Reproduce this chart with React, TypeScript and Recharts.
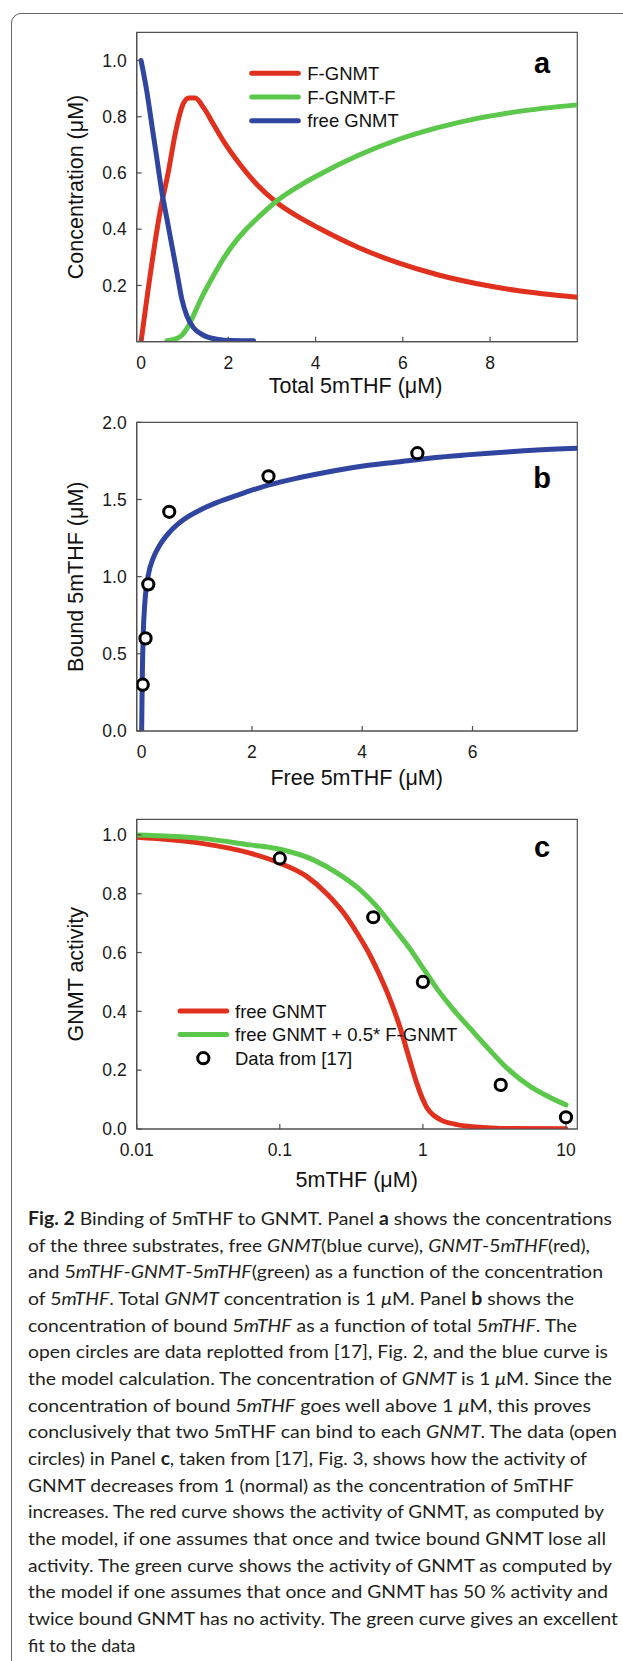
import React from 'react';
import { ComposedChart, Line, Scatter, XAxis, YAxis, ReferenceArea, Legend } from 'recharts';

// ---------- colours & fonts ----------
const RED = '#e0301e';
const GREEN = '#5cc84b';
const BLUE = '#2f45a0';
const AXIS = '#505050';
const FONT = '"Liberation Sans", Arial, Helvetica, sans-serif';

// ---------- panel a data ----------
const aTicksX = [0, 2, 4, 6, 8];
const aTicksY = [0.2, 0.4, 0.6, 0.8, 1.0];
const aFreeX = [0, 0.13, 0.245, 0.36, 0.475, 0.59, 0.705, 0.82, 0.934, 1.05, 1.2, 1.43, 1.74, 2.1, 2.58];
const aFreeY = [1.0, 0.892, 0.773, 0.654, 0.534, 0.439, 0.343, 0.248, 0.152, 0.092, 0.05, 0.023, 0.009, 0.004, 0.003];
const aFX = [0, 0.436, 0.628, 0.78, 0.934, 1.09, 1.24, 1.43, 1.66, 1.89, 2.27, 2.66, 3.11, 3.65, 4.06, 4.97, 5.88, 6.8, 7.71, 8.62, 10];
const aFY = [0, 0.462, 0.606, 0.737, 0.833, 0.866, 0.866, 0.833, 0.773, 0.713, 0.63, 0.558, 0.495, 0.44, 0.405, 0.336, 0.281, 0.238, 0.206, 0.182, 0.158];
const aFFX = [0.59, 0.8, 0.95, 1.1, 1.25, 1.4, 1.66, 1.97, 2.35, 2.73, 3.11, 3.65, 4.06, 4.97, 5.88, 6.8, 7.71, 8.62, 10];
const aFFY = [0.003, 0.01, 0.025, 0.06, 0.11, 0.16, 0.235, 0.315, 0.39, 0.448, 0.5, 0.556, 0.592, 0.662, 0.718, 0.761, 0.794, 0.818, 0.842];

// ---------- panel b data ----------
const bTicksX = [0, 2, 4, 6];
const bTicksY = [0, 0.5, 1.0, 1.5, 2.0];
const bCurveX = [0, 0.01, 0.03, 0.06, 0.12, 0.21, 0.33, 0.51, 0.75, 1.06, 1.36, 1.66, 1.96, 2.31, 2.87, 3.47, 4.08, 4.68, 5.29, 5.89, 6.49, 7.1, 7.9];
const bCurveY = [0, 0.32, 0.64, 0.84, 1.01, 1.12, 1.205, 1.29, 1.367, 1.432, 1.48, 1.518, 1.555, 1.594, 1.642, 1.685, 1.72, 1.745, 1.771, 1.789, 1.804, 1.819, 1.832];
const bDataX = [0.02, 0.07, 0.12, 0.5, 2.3, 5.0];
const bDataY = [0.3, 0.6, 0.95, 1.42, 1.65, 1.8];

// ---------- panel c data ----------
const cTicksX = [0.01, 0.1, 1, 10];
const cTicksY = [0, 0.2, 0.4, 0.6, 0.8, 1.0];
const cFreeX = [0.01, 0.0277, 0.062, 0.1, 0.155, 0.213, 0.279, 0.345, 0.428, 0.502, 0.59, 0.693, 0.792, 0.907, 1.0, 1.067, 1.2, 1.32, 1.73, 2.51, 3.5, 10];
const cFreeY = [0.992, 0.972, 0.938, 0.904, 0.858, 0.8, 0.735, 0.668, 0.59, 0.52, 0.44, 0.345, 0.25, 0.155, 0.1, 0.072, 0.045, 0.032, 0.015, 0.006, 0.002, 0.001];
const cHalfX = [0.01, 0.0277, 0.062, 0.1, 0.172, 0.264, 0.365, 0.477, 0.623, 0.814, 1.0, 1.25, 1.64, 2.14, 2.8, 3.87, 5.62, 7.76, 10];
const cHalfY = [1.0, 0.989, 0.966, 0.951, 0.915, 0.864, 0.813, 0.756, 0.685, 0.612, 0.548, 0.478, 0.405, 0.342, 0.279, 0.207, 0.145, 0.107, 0.082];
const cDataX = [0.1, 0.45, 1.0, 3.5, 10];
const cDataY = [0.92, 0.72, 0.5, 0.15, 0.04];

// ---------- legend labels ----------
const aLegend = [
  { name: 'F-GNMT', color: RED },
  { name: 'F-GNMT-F', color: GREEN },
  { name: 'free GNMT', color: BLUE },
];
const cLegend = [
  { name: 'free GNMT', color: RED, kind: 'line' },
  { name: 'free GNMT + 0.5* F-GNMT', color: GREEN, kind: 'line' },
  { name: 'Data from [17]', color: '#000', kind: 'circle' },
];

// ---------- caption ----------
const captionLines = [
  '*Fig. 2* Binding of 5mTHF to GNMT. Panel *a* shows the concentrations',
  'of the three substrates, free _GNMT_(blue curve), _GNMT_-5_mTHF_(red),',
  'and 5_mTHF_-_GNMT_-5_mTHF_(green) as a function of the concentration',
  'of 5_mTHF_. Total _GNMT_ concentration is 1 _\u03bc_M. Panel *b* shows the',
  'concentration of bound 5_mTHF_ as a function of total 5_mTHF_. The',
  'open circles are data replotted from [17], Fig. 2, and the blue curve is',
  'the model calculation. The concentration of _GNMT_ is 1 _\u03bc_M. Since the',
  'concentration of bound 5_mTHF_ goes well above 1 _\u03bc_M, this proves',
  'conclusively that two 5mTHF can bind to each _GNMT_. The data (open',
  'circles) in Panel *c*, taken from [17], Fig. 3, shows how the activity of',
  'GNMT decreases from 1 (normal) as the concentration of 5mTHF',
  'increases. The red curve shows the activity of GNMT, as computed by',
  'the model, if one assumes that once and twice bound GNMT lose all',
  'activity. The green curve shows the activity of GNMT as computed by',
  'the model if one assumes that once and GNMT has 50 % activity and',
  'twice bound GNMT has no activity. The green curve gives an excellent',
  'fit to the data',
];
const captionWidths = [584, 562, 575, 546, 549, 580, 584, 563, 589, 559, 546, 576, 578, 584, 580, 590, 0];

const zip = (xs: number[], ys: number[]) => xs.map((x, i) => ({ x, y: ys[i] }));

const aFree = zip(aFreeX, aFreeY);
const aF = zip(aFX, aFY);
const aFF = zip(aFFX, aFFY);
const bCurve = zip(bCurveX, bCurveY);
const bData = zip(bDataX, bDataY);
const cFree = zip(cFreeX, cFreeY);
const cHalf = zip(cHalfX, cHalfY);
const cData = zip(cDataX, cDataY);

const tickStyle = { fontSize: 17.5, fill: '#1a1a1a', fontFamily: FONT };
const titleStyle: React.CSSProperties = { fontSize: 21.5, fill: '#111', fontFamily: FONT };
const axisLine = { stroke: AXIS, strokeWidth: 1.2 };
const f1 = (v: number) => v.toFixed(1);

const Circle = (p: any) => (
  <circle cx={p.cx} cy={p.cy} r={5.6} fill="#fff" stroke="#000" strokeWidth={3} />
);

const xTitle = (text: string, cx: number, base: number) => ({
  content: () => (
    <text x={cx} y={base} textAnchor="middle" style={titleStyle}>
      {text}
    </text>
  ),
});
const yTitle = (text: string, cy: number) => ({
  content: () => (
    <text transform={`translate(75.5, ${cy}) rotate(-90)`} textAnchor="middle" dominantBaseline="central" style={titleStyle}>
      {text}
    </text>
  ),
});

const LegendA = () => (
  <svg width={200} height={76} style={{ display: 'block', overflow: 'visible' }}>
    {aLegend.map((s, i) => {
      const y = 13.3 + i * 23.7;
      return (
        <g key={s.name}>
          <line x1={6.7} x2={53.3} y1={y} y2={y} stroke={s.color} strokeWidth={5} strokeLinecap="round" />
          <text x={62.3} y={y + 6.6} style={{ fontSize: 18.5, fontFamily: FONT, fill: '#111' }}>{s.name}</text>
        </g>
      );
    })}
  </svg>
);

const LegendC = () => (
  <svg width={380} height={80} style={{ display: 'block', overflow: 'visible' }}>
    {cLegend.map((s, i) => {
      const y = 16 + i * 23.6;
      return (
        <g key={s.name}>
          {s.kind === 'line' ? (
            <line x1={10} x2={56.7} y1={y} y2={y} stroke={s.color} strokeWidth={5} strokeLinecap="round" />
          ) : (
            <circle cx={33.3} cy={y} r={5.6} fill="#fff" stroke="#000" strokeWidth={3} />
          )}
          <text x={65} y={y + 6.6} style={{ fontSize: 18.5, fontFamily: FONT, fill: '#111' }}>{s.name}</text>
        </g>
      );
    })}
  </svg>
);

const renderSegments = (line: string) =>
  line.split(/(\*[^*]+\*|_[^_]+_)/).filter((s) => s.length > 0).map((s, i) => {
    if (s.startsWith('*')) return <tspan key={i} fontWeight="bold">{s.slice(1, -1)}</tspan>;
    if (s.startsWith('_')) return <tspan key={i} fontStyle="italic">{s.slice(1, -1)}</tspan>;
    return <tspan key={i}>{s}</tspan>;
  });

const lineProps = { dot: false, isAnimationActive: false, strokeWidth: 5, strokeLinecap: 'round' as const, type: 'monotone' as const, dataKey: 'y' };

export default function App() {
  return (
    <div style={{ position: 'absolute', left: 0, top: 0, width: 623, height: 1661, overflow: 'hidden', background: '#fff' }}>
      <div style={{ position: 'absolute', left: 11, top: 13, width: 700, height: 1800, border: '1px solid #666', borderRadius: 10 }} />

      {/* Panel a */}
      <div style={{ position: 'absolute', left: 0, top: 0 }}>
        <ComposedChart width={623} height={410} margin={{ top: 32.3, right: 45.7, bottom: 18.3, left: 0 }}>
          <XAxis type="number" dataKey="x" domain={[-0.1, 10]} allowDataOverflow ticks={aTicksX} interval={0} height={50}
            tickSize={-5} tickMargin={20} axisLine={axisLine} tickLine={axisLine} tick={tickStyle}
            label={xTitle('Total 5mTHF (\u03bcM)', 355.5, 393.3)} />
          <YAxis type="number" dataKey="y" domain={[0, 1.1]} allowDataOverflow ticks={aTicksY} interval={0} width={136.7}
            tickSize={-5} tickMargin={15} axisLine={axisLine} tickLine={axisLine} tick={tickStyle} tickFormatter={f1}
            label={yTitle('Concentration (\u03bcM)', 187)} />
          <ReferenceArea x1={-0.1} x2={10} y1={0} y2={1.1} fill="none" stroke={AXIS} strokeWidth={1.2} ifOverflow="visible" />
          <Line data={aF} name="F-GNMT" stroke={RED} {...lineProps} />
          <Line data={aFF} name="F-GNMT-F" stroke={GREEN} {...lineProps} />
          <Line data={aFree} name="free GNMT" stroke={BLUE} {...lineProps} />
          <Legend verticalAlign="middle" align="center" layout="horizontal"
            wrapperStyle={{ left: 245, top: 60, width: 200, height: 76 }} content={() => <LegendA />} />
        </ComposedChart>
      </div>

      {/* Panel b */}
      <div style={{ position: 'absolute', left: 0, top: 410 }}>
        <ComposedChart width={623} height={395} margin={{ top: 12.3, right: 45.7, bottom: 24, left: 0 }}>
          <XAxis type="number" dataKey="x" domain={[-0.09, 7.9]} allowDataOverflow ticks={bTicksX} interval={0} height={50}
            tickSize={-5} tickMargin={20} axisLine={axisLine} tickLine={axisLine} tick={tickStyle}
            label={xTitle('Free 5mTHF (\u03bcM)', 356.7, 375)} />
          <YAxis type="number" dataKey="y" domain={[0, 2]} allowDataOverflow ticks={bTicksY} interval={0} width={136.7}
            tickSize={-5} tickMargin={15} axisLine={axisLine} tickLine={axisLine} tick={tickStyle} tickFormatter={f1}
            label={yTitle('Bound 5mTHF (\u03bcM)', 166.7)} />
          <ReferenceArea x1={-0.09} x2={7.9} y1={0} y2={2} fill="none" stroke={AXIS} strokeWidth={1.2} ifOverflow="visible" />
          <Line data={bCurve} name="model" stroke={BLUE} {...lineProps} />
          <Scatter data={bData} dataKey="y" name="data" shape={Circle} isAnimationActive={false} />
        </ComposedChart>
      </div>

      {/* Panel c */}
      <div style={{ position: 'absolute', left: 0, top: 805 }}>
        <ComposedChart width={623} height={400} margin={{ top: 14.3, right: 45.7, bottom: 26, left: 0 }}>
          <XAxis type="number" dataKey="x" scale="log" domain={[0.01, 12]} allowDataOverflow ticks={cTicksX} interval={0} height={50}
            tickSize={-5} tickMargin={20} axisLine={axisLine} tickLine={axisLine} tick={tickStyle}
            tickFormatter={(v: number) => String(v)}
            label={xTitle('5mTHF (\u03bcM)', 356.7, 381.7)} />
          <YAxis type="number" dataKey="y" domain={[0, 1.053]} allowDataOverflow ticks={cTicksY} interval={0} width={136.7}
            tickSize={-5} tickMargin={15} axisLine={axisLine} tickLine={axisLine} tick={tickStyle} tickFormatter={f1}
            label={yTitle('GNMT activity', 169.2)} />
          <ReferenceArea x1={0.01} x2={12} y1={0} y2={1.053} fill="none" stroke={AXIS} strokeWidth={1.2} ifOverflow="visible" />
          <Line data={cFree} name="free GNMT" stroke={RED} {...lineProps} />
          <Line data={cHalf} name="free GNMT + 0.5* F-GNMT" stroke={GREEN} {...lineProps} />
          <Scatter data={cData} dataKey="y" name="Data from [17]" shape={Circle} isAnimationActive={false} />
          <Legend verticalAlign="middle" align="center" layout="horizontal"
            wrapperStyle={{ left: 170, top: 190, width: 380, height: 80 }} content={() => <LegendC />} />
        </ComposedChart>
      </div>

      {/* panel letters and caption */}
      <svg width={623} height={1661} style={{ position: 'absolute', left: 0, top: 0, pointerEvents: 'none' }}>
        <g style={{ fontFamily: FONT, fontWeight: 'bold', fontSize: 29, fill: '#000' }}>
          <text x={542} y={72.7} textAnchor="middle">a</text>
          <text x={542} y={488.3} textAnchor="middle">b</text>
          <text x={542} y={856.7} textAnchor="middle">c</text>
        </g>
        <g style={{ fontFamily: 'Lato, "Open Sans", sans-serif', fontSize: 18, fill: '#231f20', whiteSpace: 'pre' }}>
          {captionLines.map((line, i) => (
            <text key={i} x={28} y={1225 + i * 26.67}
              {...(captionWidths[i] > 0 ? { textLength: captionWidths[i], lengthAdjust: 'spacingAndGlyphs' } : {})}>
              {renderSegments(line)}
            </text>
          ))}
        </g>
      </svg>
    </div>
  );
}
